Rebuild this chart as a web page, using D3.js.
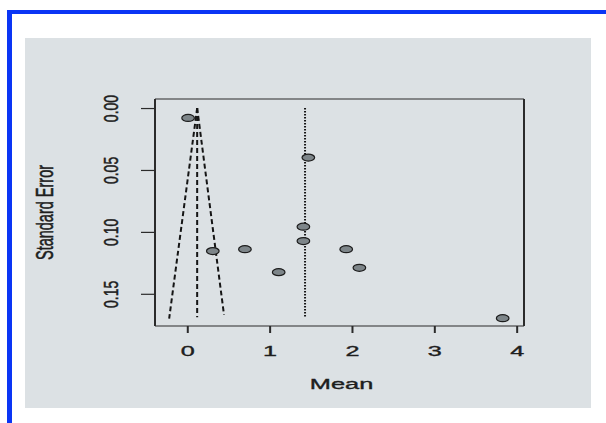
<!DOCTYPE html>
<html>
<head>
<meta charset="utf-8">
<script src="https://cdn.jsdelivr.net/npm/d3@7"></script>
<style>
  body { margin: 0; background: #fff; }
  svg text { font-family: "Liberation Sans", Arial, sans-serif; fill: #1e1e1e; stroke: #1e1e1e; stroke-width: 0.35; }
</style>
</head>
<body>
<script>
'use strict';

// study means and standard errors
const means = [0.01, 0.31, 0.70, 1.11, 1.41, 1.41, 1.47, 1.93, 2.09, 3.83];
const ses = [0.008, 0.1155, 0.114, 0.1325, 0.0958, 0.1074, 0.040, 0.114, 0.129, 0.1697];

const fixedEst = 0.12;    // dashed centre line
const meanEst = 1.43;     // dotted line
const seMax = 0.169;
const funnelLeft = [[0.12, 0], [-0.22, 0.170]];
const funnelRight = [[0.12, 0], [0.446, 0.167]];

const xTicks = [0, 1, 2, 3, 4];
const yTicks = [0, 0.05, 0.10, 0.15];

const W = 606, H = 423;
const box = { left: 155, right: 524, top: 99, bottom: 326 };

const svg = d3.select("body").append("svg")
    .attr("width", W)
    .attr("height", H);

// blue frame (top and left only) and grey panel
svg.append("rect").attr("x", 7).attr("y", 10).attr("width", W - 7).attr("height", 4).attr("fill", "#0a35f5");
svg.append("rect").attr("x", 7).attr("y", 10).attr("width", 5).attr("height", H - 10).attr("fill", "#0a35f5");
svg.append("rect").attr("x", 25).attr("y", 38).attr("width", 566).attr("height", 370).attr("fill", "#dce1e4");

const x = d3.scaleLinear().domain([-0.392, 4.089]).range([box.left, box.right]);
const y = d3.scaleLinear().domain([-0.0073, 0.176]).range([box.top, box.bottom]);

const ink = "#2b2b2b";

// plot box: vertical sides look thicker because the picture is stretched sideways
const g = svg.append("g");
g.append("line").attr("x1", box.left).attr("x2", box.right).attr("y1", box.top).attr("y2", box.top)
    .attr("stroke", ink).attr("stroke-width", 1.2);
g.append("line").attr("x1", box.left).attr("x2", box.right).attr("y1", box.bottom).attr("y2", box.bottom)
    .attr("stroke", ink).attr("stroke-width", 1.2);
g.append("line").attr("x1", box.left).attr("x2", box.left).attr("y1", box.top).attr("y2", box.bottom)
    .attr("stroke", ink).attr("stroke-width", 2);
g.append("line").attr("x1", box.right).attr("x2", box.right).attr("y1", box.top).attr("y2", box.bottom)
    .attr("stroke", ink).attr("stroke-width", 2);

// x axis
const xAxis = svg.append("g")
    .attr("transform", "translate(0," + box.bottom + ")")
    .call(d3.axisBottom(x).tickValues(xTicks).tickSize(7).tickFormat(d3.format("d")));
xAxis.select(".domain").remove();
xAxis.selectAll(".tick line").attr("stroke", ink).attr("stroke-width", 2);
xAxis.selectAll(".tick text").remove();
xAxis.selectAll(".tick").append("text")
    .attr("transform", "translate(0,30) scale(1.8,1)")
    .attr("text-anchor", "middle")
    .style("font-size", "14px")
    .text(d => d);

// y axis
const yAxis = svg.append("g")
    .attr("transform", "translate(" + box.left + ",0)")
    .call(d3.axisLeft(y).tickValues(yTicks).tickSize(14));
yAxis.select(".domain").remove();
yAxis.selectAll(".tick line").attr("stroke", ink).attr("stroke-width", 1.2);
yAxis.selectAll(".tick text").remove();
yAxis.selectAll(".tick").append("text")
    .attr("transform", "translate(-37,0) scale(1.5,1) rotate(-90)")
    .attr("text-anchor", "middle")
    .style("font-size", "14px")
    .text(d => d3.format(".2f")(d));

// axis titles
svg.append("text")
    .attr("transform", "translate(" + ((box.left + box.right) / 2 + 2) + ",389) scale(1.75,1)")
    .attr("text-anchor", "middle")
    .style("font-size", "14.5px")
    .text("Mean");

svg.append("text")
    .attr("transform", "translate(53," + ((box.top + box.bottom) / 2) + ") scale(1.6,1) rotate(-90)")
    .attr("text-anchor", "middle")
    .style("font-size", "14.5px")
    .text("Standard Error");

// funnel lines
const line = d3.line().x(d => x(d[0])).y(d => y(d[1]));
[funnelLeft, funnelRight].forEach(f => {
    svg.append("path").attr("d", line(f))
        .attr("fill", "none").attr("stroke", "#151515").attr("stroke-width", 2)
        .attr("stroke-dasharray", "5,3");
});
svg.append("path").attr("d", line([[fixedEst, 0], [fixedEst, seMax]]))
    .attr("fill", "none").attr("stroke", "#151515").attr("stroke-width", 2)
    .attr("stroke-dasharray", "5,3");
svg.append("path").attr("d", line([[meanEst, 0], [meanEst, seMax]]))
    .attr("fill", "none").attr("stroke", "#151515").attr("stroke-width", 2)
    .attr("stroke-dasharray", "1.5,1.5");

// study points
svg.selectAll("ellipse.pt")
    .data(means)
    .enter()
    .append("ellipse")
    .attr("class", "pt")
    .attr("cx", d => x(d))
    .attr("cy", (d, i) => y(ses[i]))
    .attr("rx", 6.3)
    .attr("ry", 3.5)
    .attr("fill", "#7d8589")
    .attr("stroke", "#1c1c1c")
    .attr("stroke-width", 1.2);
</script>
</body>
</html>
